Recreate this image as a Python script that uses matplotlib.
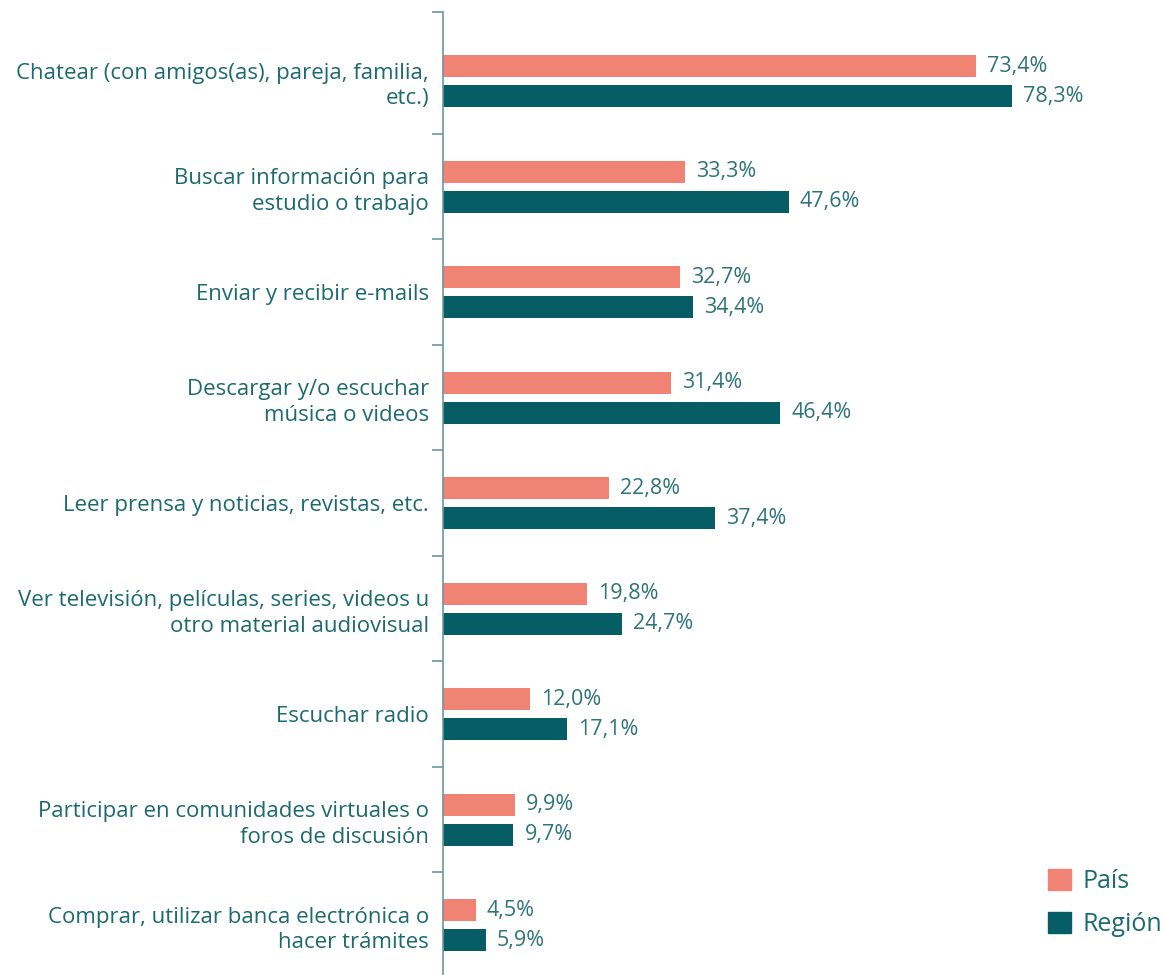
import matplotlib
matplotlib.use("Agg")
import matplotlib.pyplot as plt
from matplotlib.patches import Patch

plt.rcParams['font.family'] = ['Open Sans', 'DejaVu Sans']

categorias = [
    "Chatear (con amigos(as), pareja, familia,\netc.)",
    "Buscar información para\nestudio o trabajo",
    "Enviar y recibir e-mails",
    "Descargar y/o escuchar\nmúsica o videos",
    "Leer prensa y noticias, revistas, etc.",
    "Ver televisión, películas, series, videos u\notro material audiovisual",
    "Escuchar radio",
    "Participar en comunidades virtuales o\nforos de discusión",
    "Comprar, utilizar banca electrónica o\nhacer trámites",
]
pais = [73.4, 33.3, 32.7, 31.4, 22.8, 19.8, 12.0, 9.9, 4.5]
region = [78.3, 47.6, 34.4, 46.4, 37.4, 24.7, 17.1, 9.7, 5.9]

c_pais = "#F08373"
c_region = "#075D66"
c_text = "#1D6A70"
c_val = "#2F7479"
c_axis = "#6E979B"

fig = plt.figure(figsize=(11.64, 9.75), dpi=100)
ax = fig.add_axes([443 / 1164, -3 / 975, 721 / 1164, 966 / 975])

n = len(categorias)
y = list(range(n))
h = 0.21
off = 0.142
ax.barh([i - off for i in y], pais, height=h, color=c_pais)
ax.barh([i + off for i in y], region, height=h, color=c_region)

def fmt(v):
    return f"{v:.1f}%".replace(".", ",")

for i in y:
    ax.annotate(fmt(pais[i]), (pais[i], i - off), xytext=(8, 0), textcoords="offset points",
                va="center", ha="left", fontsize=15.5, color=c_val)
    ax.annotate(fmt(region[i]), (region[i], i + off), xytext=(8, 0), textcoords="offset points",
                va="center", ha="left", fontsize=15.5, color=c_val)

ax.set_xlim(0, 99.3)
top = -0.655
ax.set_ylim(n - 0.5, top)

ax.set_yticks(y)
ax.set_yticklabels(categorias, fontsize=16, color=c_text, linespacing=1.28)
ax.tick_params(axis='y', which='major', length=0, pad=10)
ax.set_yticks([top] + [i + 0.5 for i in y], minor=True)
ax.tick_params(axis='y', which='minor', length=8, width=1.2, color=c_axis)
ax.set_xticks([])

for s in ["top", "right", "bottom"]:
    ax.spines[s].set_visible(False)
ax.spines["left"].set_color(c_axis)
ax.spines["left"].set_linewidth(1.2)

handles = [Patch(color=c_pais, label="País"), Patch(color=c_region, label="Región")]
leg = fig.legend(handles=handles, loc="upper left", bbox_to_anchor=(1048 / 1164, 1 - 869 / 975),
                 frameon=False, fontsize=18, handlelength=0.92, handleheight=0.92,
                 handletextpad=0.45, labelspacing=0.72, borderpad=0, borderaxespad=0)
for t in leg.get_texts():
    t.set_color(c_text)

fig.savefig("out.png", dpi=100)
